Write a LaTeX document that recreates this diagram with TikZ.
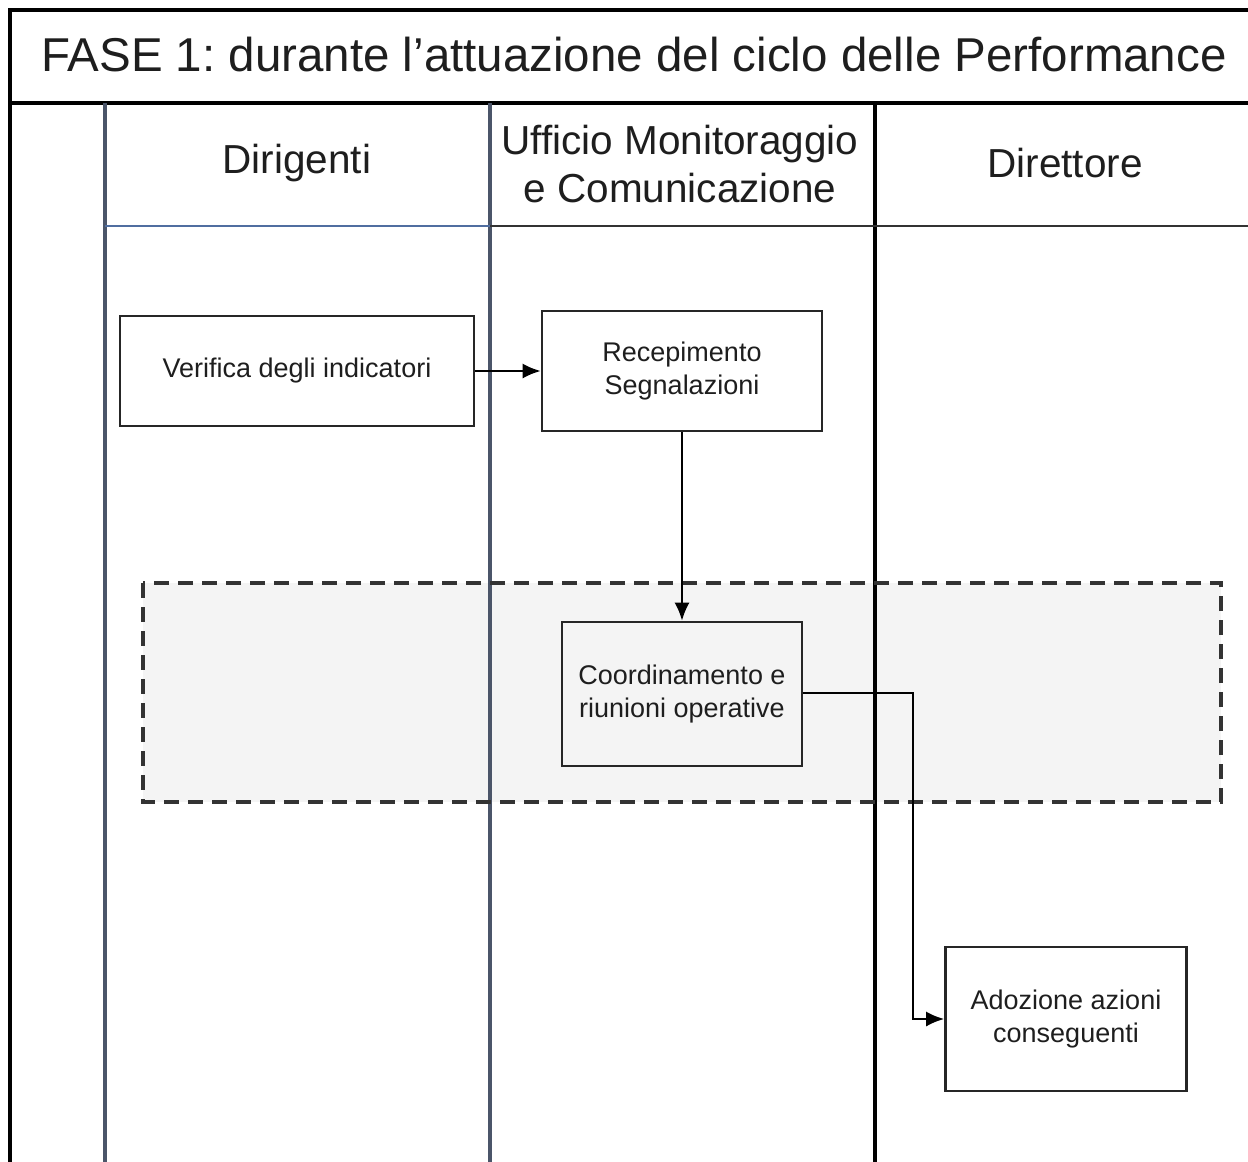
\documentclass[tikz,border=0pt]{standalone}
\usepackage{fontspec}
\setmainfont{Liberation Sans}
\usetikzlibrary{arrows.meta}
\frenchspacing
\definecolor{lanecol}{RGB}{75,85,105}
\definecolor{hdrblue}{RGB}{80,110,160}
\definecolor{regionfill}{RGB}{244,244,244}
\definecolor{txt}{RGB}{30,30,30}
\begin{document}
\begin{tikzpicture}[x=1pt,y=-1pt,
  procbox/.style={draw=black!85,line width=2.6pt,fill=white,inner sep=0pt,
    align=center,text=txt,font=\fontsize{27}{33}\selectfont},
  hdrtext/.style={text=txt,align=center,font=\fontsize{40.5}{48}\selectfont},
  flow/.style={draw=black,line width=2.2pt,-{Latex[length=18pt,width=15pt]}},
  laneline/.style={line width=3.5pt,draw=lanecol}]
\useasboundingbox (0,0) rectangle (1248,1162);
\fill[white] (0,0) rectangle (1248,1162);
% dashed region
\fill[regionfill] (143,583) rectangle (1221,802);
% outer frame
\draw[line width=3.5pt,black] (10,1170) -- (10,10) -- (1260,10);
\draw[line width=4pt,black] (10,103) -- (1260,103);
% lane lines
\draw[laneline] (105,103) -- (105,1170);
\draw[laneline] (490,103) -- (490,1170);
\draw[line width=3.5pt,black] (875,103) -- (875,1170);
% header bottom line
\draw[line width=2.8pt,hdrblue] (105,226) -- (490,226);
\draw[line width=2.8pt,black!80] (490,226) -- (1260,226);
% dashed border
\draw[line width=3.2pt,draw=black!80,dash pattern=on 15pt off 9pt] (143,583) rectangle (1221,802);
% title
\node[text=txt,font=\fontsize{47.5}{56}\selectfont,anchor=center] (title) at (634,55) {FASE 1: durante l’attuazione del ciclo delle Performance};
% lane headers
\node[hdrtext] (h1) at (297,163) {Dirigenti};
\node[hdrtext] (h2) at (680,164) {Ufficio Monitoraggio\\e Comunicazione};
\node[hdrtext] (h3) at (1065,163) {Direttore};
% boxes
\node[procbox,minimum width=354pt,minimum height=110pt] (ver) at (297,371) {Verifica degli indicatori};
\node[procbox,minimum width=280pt,minimum height=120pt] (rec) at (682,371) {Recepimento\\Segnalazioni};
\node[procbox,fill=regionfill,minimum width=240pt,minimum height=144pt] (coo) at (682,694) {Coordinamento e\\riunioni operative};
\node[procbox,minimum width=241pt,minimum height=144pt] (ado) at (1066,1019) {Adozione azioni\\conseguenti};
% connectors
\coordinate (bend) at (913,693);
\draw[flow] (ver.east) -- (rec.west);
\draw[flow] (rec.south) -- (coo.north);
\draw[flow] (coo.east |- bend) -- (bend) |- (ado.west);
\end{tikzpicture}
\end{document}
